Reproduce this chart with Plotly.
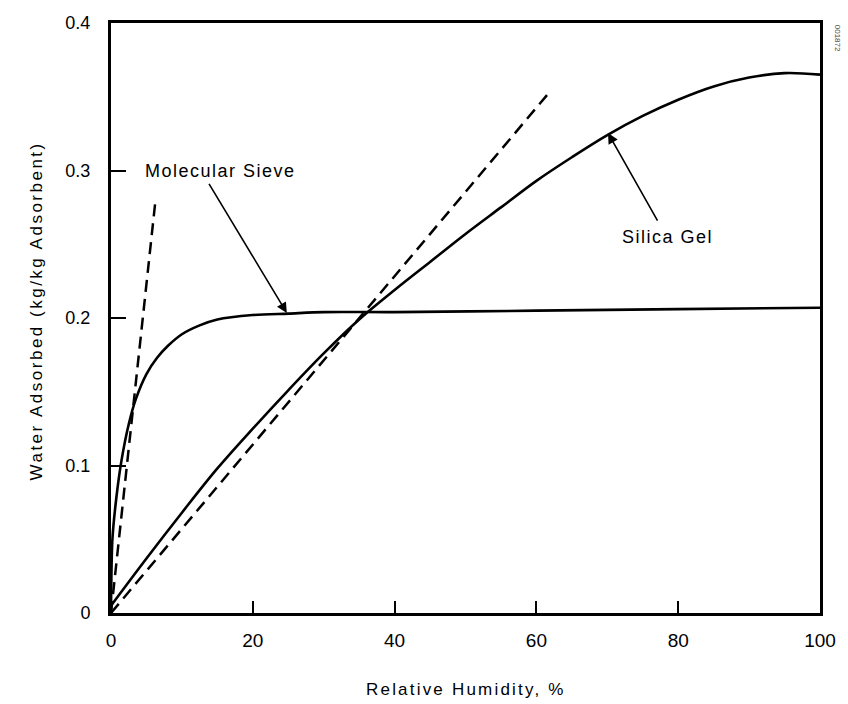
import plotly.graph_objects as go

# Water uptake isotherms (kg water per kg adsorbent vs. relative humidity, %)
rh_sieve = [0.0, 0.2, 0.8, 1.5, 2.5, 3.5, 5.0, 6.5, 8.0, 10.0, 12.5, 15.0,
            20.0, 25.0, 30.0, 40.0, 60.0, 80.0, 100.0]
w_sieve = [0.0, 0.050, 0.080, 0.104, 0.128, 0.145, 0.162, 0.173, 0.181, 0.189,
           0.195, 0.199, 0.202, 0.203, 0.204, 0.204, 0.205, 0.206, 0.207]

rh_silica = [0, 5, 10, 15, 20, 25, 30, 35, 40, 45, 50, 55, 60, 65, 70, 75, 80,
             85, 90, 95, 100]
w_silica = [0.005, 0.037, 0.068, 0.098, 0.125, 0.151, 0.176, 0.199, 0.219, 0.238,
            0.257, 0.275, 0.293, 0.309, 0.324, 0.337, 0.348, 0.357, 0.363, 0.366, 0.365]

# Initial-slope (tangent) lines
rh_sieve_tan = [0.0, 6.3]
w_sieve_tan = [0.0, 0.281]
rh_silica_tan = [0.0, 62.0]
w_silica_tan = [0.0, 0.354]

x_ticks = [0, 20, 40, 60, 80, 100]
x_tick_text = ["0", "20", "40", "60", "80", "100"]
y_ticks = [0, 0.1, 0.2, 0.3, 0.4]
y_tick_text = ["0", "0.1", "0.2", "0.3", "0.4"]

FONT = "Liberation Sans, Arial, Helvetica, sans-serif"


def spaced(label, px):
    """Wrap a label so it is drawn with extra letter spacing."""
    return f'<span style="letter-spacing:{px}px">{label}</span>'


fig = go.Figure()

dash = dict(color="black", width=2.5, dash="12px,7px")
fig.add_trace(go.Scatter(x=rh_sieve_tan, y=w_sieve_tan, mode="lines", line=dash,
                         showlegend=False, hoverinfo="skip"))
fig.add_trace(go.Scatter(x=rh_silica_tan, y=w_silica_tan, mode="lines", line=dash,
                         showlegend=False, hoverinfo="skip"))
fig.add_trace(go.Scatter(x=rh_sieve, y=w_sieve, mode="lines", name="Molecular Sieve",
                         line=dict(color="black", width=2.6, shape="spline", smoothing=0.8),
                         showlegend=False))
fig.add_trace(go.Scatter(x=rh_silica, y=w_silica, mode="lines", name="Silica Gel",
                         line=dict(color="black", width=2.6, shape="spline", smoothing=1.0),
                         showlegend=False))

# Curve labels with pointer arrows
fig.add_annotation(x=24.8, y=0.2034, ax=13.7, ay=0.292, axref="x", ayref="y",
                   xref="x", yref="y", text="", showarrow=True,
                   arrowhead=2, arrowsize=1.3, arrowwidth=1.6, arrowcolor="black")
fig.add_annotation(x=4.5, y=0.300, xref="x", yref="y",
                   text=spaced("Molecular Sieve", 1.5),
                   showarrow=False, xanchor="left", yanchor="middle",
                   font=dict(family=FONT, size=18, color="black"))
fig.add_annotation(x=70.1, y=0.3254, ax=77.2, ay=0.265, axref="x", ayref="y",
                   xref="x", yref="y", text="", showarrow=True,
                   arrowhead=2, arrowsize=1.3, arrowwidth=1.6, arrowcolor="black")
fig.add_annotation(x=71.8, y=0.255, xref="x", yref="y",
                   text=spaced("Silica Gel", 1.5),
                   showarrow=False, xanchor="left", yanchor="middle",
                   font=dict(family=FONT, size=18, color="black"))

# Axis titles
fig.add_annotation(x=-0.105, y=0.512, xref="paper", yref="paper",
                   text=spaced("Water Adsorbed (kg/kg Adsorbent)", 2.5), textangle=-90,
                   showarrow=False, xanchor="center", yanchor="middle",
                   font=dict(family=FONT, size=17, color="black"))
fig.add_annotation(x=0.5, y=-0.13, xref="paper", yref="paper",
                   text=spaced("Relative Humidity, %", 2.2), showarrow=False,
                   xanchor="center", yanchor="middle",
                   font=dict(family=FONT, size=17, color="black"))

# Figure code in the margin
fig.add_annotation(x=1.025, y=1.0, xref="paper", yref="paper", text="001872",
                   textangle=90, showarrow=False, xanchor="center", yanchor="top",
                   font=dict(family=FONT, size=8, color="#444"))

axis_common = dict(showgrid=False, zeroline=False, showline=True, linecolor="black",
                   linewidth=3, mirror=True, ticks="inside", tickcolor="black",
                   tickwidth=2)

fig.update_xaxes(range=[0, 100], tickvals=x_ticks, ticktext=x_tick_text,
                 ticklen=12, ticklabelstandoff=8,
                 tickfont=dict(family=FONT, size=19, color="black"), **axis_common)
fig.update_yaxes(range=[0, 0.4], tickvals=y_ticks, ticktext=y_tick_text,
                 ticklen=15, ticklabelstandoff=14,
                 tickfont=dict(family=FONT, size=18, color="black"), **axis_common)

fig.update_layout(width=848, height=704, margin=dict(l=111, r=28, t=23, b=91),
                  plot_bgcolor="white", paper_bgcolor="white",
                  font=dict(family=FONT, color="black"))

fig.write_html("out.html")
